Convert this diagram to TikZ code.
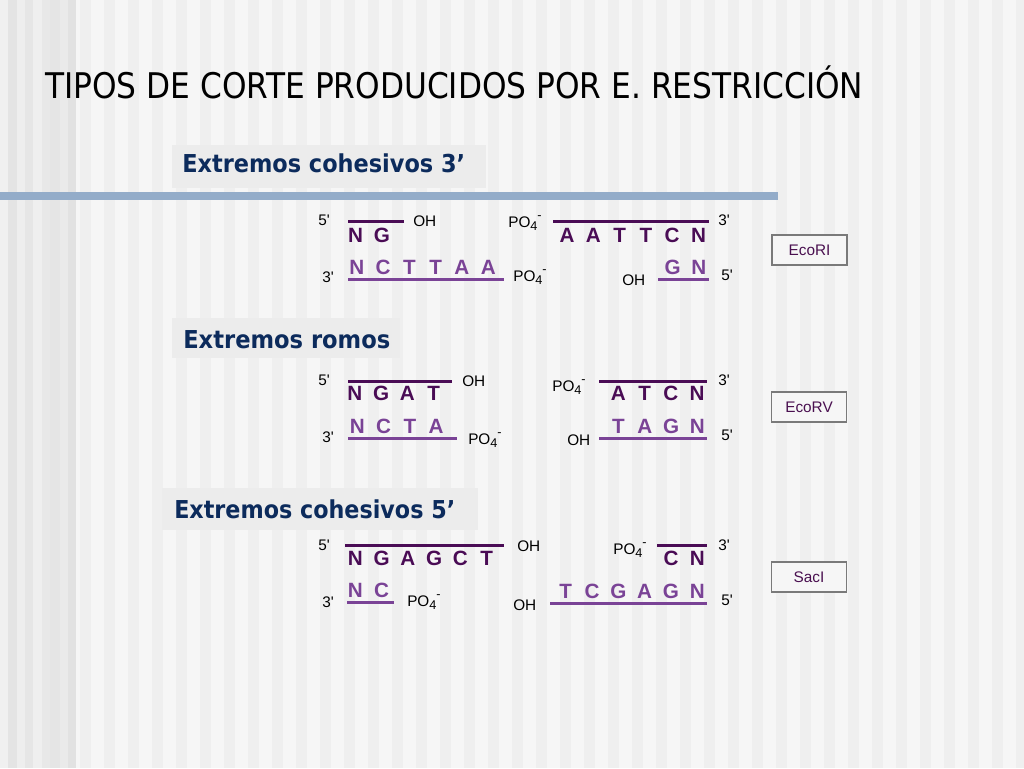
\documentclass[tikz,border=0pt]{standalone}
\usepackage{fontspec}
\usepackage{graphicx}
\setmainfont{Liberation Sans}
\newfontfamily\tahoma{DejaVu Sans}
\newdimen\unitpx \unitpx=0.75pt
\definecolor{dtop}{HTML}{4A0C55}
\definecolor{dbot}{HTML}{7A4396}
\definecolor{navy}{HTML}{0C2B5C}
\definecolor{barc}{HTML}{93ACC9}
\definecolor{hbox}{HTML}{ECECEC}
\definecolor{bgc}{HTML}{F6F6F6}
\definecolor{stripec}{HTML}{EFEFEF}
\definecolor{enzc}{HTML}{4A1050}
\definecolor{enzb}{HTML}{7A7A7A}
\newcommand\bx[1]{\makebox[26.3\unitpx]{#1}}
\newcommand\po{PO\raisebox{-.45ex}{\fontsize{9.5}{10}\selectfont 4}\raisebox{.9ex}{\fontsize{9.5}{10}\selectfont -}}
\newcommand\pr{\textquotesingle}
\begin{document}
\begin{tikzpicture}[x=0.75pt,y=-0.75pt,
  lab/.style={inner sep=0pt, anchor=base west, font=\fontsize{11.5}{13}\selectfont},
  stt/.style={inner sep=0pt, anchor=base, font=\fontsize{15.5}{17}\selectfont\bfseries, text=dtop},
  stb/.style={stt, text=dbot},
  topline/.style={draw=dtop, line width=2.25pt},
  botline/.style={draw=dbot, line width=2.25pt},
  enz/.style={draw=enzb, line width=1.2pt, fill=bgc, minimum width=56pt, minimum height=22.5pt, inner sep=0pt, text=enzc, font=\fontsize{11.5}{13}\selectfont},
  head/.style={inner sep=0pt, anchor=base west, text=navy, font={\tahoma\bfseries\fontsize{18.5}{20}\selectfont}},
  hb/.style={fill=hbox}]
\useasboundingbox (0,0) rectangle (1024,768);
% background
\fill[bgc] (0,0) rectangle (1024,768);
\foreach \x in {80,104,...,1020} \fill[stripec] (\x,0) rectangle (\x+11,768);
\foreach \a/\b/\c in {0/8/F0F0F0, 8/17/E4E4E4, 17/25/EEEEEE, 25/33/E6E6E6, 33/42/EFEFEF, 42/50/E8E8E8, 50/60/E5E5E5, 60/68/EAEAEA, 68/76/E2E2E2}{
  \definecolor{tmpc}{HTML}{\c}
  \fill[tmpc] (\a,0) rectangle (\b,768);}
% title
\node[inner sep=0pt, anchor=base west, font={\tahoma\fontsize{26.5}{30}\selectfont}] (title) at (45,98) {\resizebox{818\unitpx}{\height}{TIPOS DE CORTE PRODUCIDOS POR E. RESTRICCIÓN}};
% bar
\fill[barc] (0,192) rectangle (778,200);
% headings
\fill[hb] (172,145) rectangle (486,188);
\node[head] (h1) at (182,172) {\resizebox{283\unitpx}{\height}{Extremos cohesivos 3’}};
\fill[hb] (172,318) rectangle (400,358);
\node[head] (h2) at (183,348) {\resizebox{207\unitpx}{\height}{Extremos romos}};
\fill[hb] (162,488) rectangle (478,530);
\node[head] (h3) at (174,518) {\resizebox{281\unitpx}{\height}{Extremos cohesivos 5’}};
% ===== Block 1: EcoRI
\node[lab] (a5) at (318,225) {5\pr};
\draw[topline] (348,221) -- (404,221);
\node[stt] (a1) at (368.75,242) {\bx{N}\bx{G}};
\node[lab] (aOH) at (413,226) {OH};
\node[lab] (aPO) at (508,227) {\po};
\draw[topline] (553,221) -- (709,221);
\node[stt] (a2) at (632.75,242) {\bx{A}\bx{A}\bx{T}\bx{T}\bx{C}\bx{N}};
\node[lab] (a3) at (718,225) {3\pr};
\node[lab] (a3b) at (322,282) {3\pr};
\node[stb] (a3s) at (422.5,274) {\bx{N}\bx{C}\bx{T}\bx{T}\bx{A}\bx{A}};
\draw[botline] (348,279) -- (504,279);
\node[lab] (aPOb) at (513,281) {\po};
\node[lab] (aOHb) at (622,285) {OH};
\draw[botline] (658,279) -- (709,279);
\node[stb] (a4s) at (685.75,274) {\bx{G}\bx{N}};
\node[lab] (a5b) at (721,280) {5\pr};
\node[enz] (e1) at (809.5,250) {EcoRI};
% ===== Block 2: EcoRV
\node[lab] (b5) at (318,385) {5\pr};
\draw[topline] (348,381) -- (452,381);
\node[stt] (b1) at (394.25,400) {\bx{N}\bx{G}\bx{A}\bx{T}};
\node[lab] (bOH) at (462,386) {OH};
\node[lab] (bPO) at (552,391) {\po};
\draw[topline] (599,381) -- (707,381);
\node[stt] (b2) at (657.75,400.5) {\bx{A}\bx{T}\bx{C}\bx{N}};
\node[lab] (b3) at (718,385) {3\pr};
\node[lab] (b3b) at (322,442) {3\pr};
\node[stb] (b3s) at (396.75,433) {\bx{N}\bx{C}\bx{T}\bx{A}};
\draw[botline] (348,438.5) -- (457,438.5);
\node[lab] (bPOb) at (468,444) {\po};
\node[lab] (bOHb) at (567,445) {OH};
\draw[botline] (599,438.5) -- (707,438.5);
\node[stb] (b4s) at (658,433) {\bx{T}\bx{A}\bx{G}\bx{N}};
\node[lab] (b5b) at (721,440) {5\pr};
\node[enz] (e2) at (809,407) {EcoRV};
% ===== Block 3: SacI
\node[lab] (c5) at (318,550) {5\pr};
\draw[topline] (345,545) -- (504,545);
\node[stt] (c1) at (421,565) {\bx{N}\bx{G}\bx{A}\bx{G}\bx{C}\bx{T}};
\node[lab] (cOH) at (517,551) {OH};
\node[lab] (cPO) at (613,554) {\po};
\draw[topline] (657,545.5) -- (707,545.5);
\node[stt] (c2) at (684.25,565.5) {\bx{C}\bx{N}};
\node[lab] (c3) at (718,550) {3\pr};
\node[lab] (c3b) at (322,607) {3\pr};
\node[stb] (c3s) at (368.5,597) {\bx{N}\bx{C}};
\draw[botline] (347,602.5) -- (394,602.5);
\node[lab] (cPOb) at (407,606) {\po};
\node[lab] (cOHb) at (513,610) {OH};
\draw[botline] (550,603) -- (707,603);
\node[stb] (c4s) at (631.5,598) {\bx{T}\bx{C}\bx{G}\bx{A}\bx{G}\bx{N}};
\node[lab] (c5b) at (721,605) {5\pr};
\node[enz] (e3) at (809,577) {SacI};
\end{tikzpicture}
\end{document}
